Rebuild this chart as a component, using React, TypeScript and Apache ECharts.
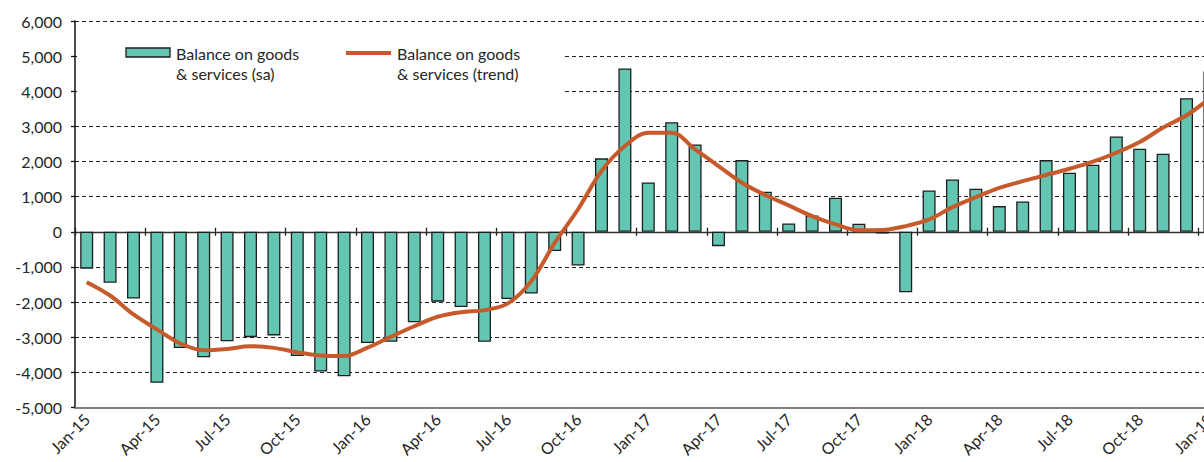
import React, { useEffect, useRef } from "react";
import * as echarts from "echarts";

const categories = [
  "Jan-15", "Feb-15", "Mar-15", "Apr-15", "May-15", "Jun-15", "Jul-15", "Aug-15", "Sep-15", "Oct-15", "Nov-15", "Dec-15",
  "Jan-16", "Feb-16", "Mar-16", "Apr-16", "May-16", "Jun-16", "Jul-16", "Aug-16", "Sep-16", "Oct-16", "Nov-16", "Dec-16",
  "Jan-17", "Feb-17", "Mar-17", "Apr-17", "May-17", "Jun-17", "Jul-17", "Aug-17", "Sep-17", "Oct-17", "Nov-17", "Dec-17",
  "Jan-18", "Feb-18", "Mar-18", "Apr-18", "May-18", "Jun-18", "Jul-18", "Aug-18", "Sep-18", "Oct-18", "Nov-18", "Dec-18",
  "Jan-19",
];

const balanceSa = [
  -1050, -1450, -1900, -4300, -3310, -3575, -3120, -3000, -2950, -3535, -3980, -4115,
  -3165, -3130, -2575, -1990, -2140, -3130, -1915, -1760, -550, -960, 2090, 4650,
  1405, 3120, 2485, -410, 2040, 1140, 235, 465, 970, 230, -50, -1720,
  1175, 1490, 1225, 730, 865, 2040, 1680, 1910, 2715, 2365, 2220, 3800,
  4565,
];

const balanceTrend = [
  -1435, -1815, -2355, -2780, -3180, -3370, -3335, -3260, -3305, -3430, -3520, -3540,
  -3300, -2990, -2690, -2420, -2290, -2230, -2040, -1405, -315, 640, 1730, 2440,
  2820, 2820, 2345, 1870, 1395, 1045, 750, 445, 210, 45, 50, 160,
  350, 700, 985, 1250, 1440, 1615, 1795, 1995, 2250, 2555, 2965, 3315,
  3800,
];

const seriesNames = ["Balance on goods\n& services (sa)", "Balance on goods\n& services (trend)"];

const TEAL = "#62C6B2";
const ORANGE = "#C65A2A";
const FONT = "Lato";
const TEXT = "#262626";

export default function App() {
  const ref = useRef<HTMLDivElement>(null);

  useEffect(() => {
    if (!ref.current) return;
    const chart = echarts.init(ref.current, null, { renderer: "svg" });
    const baseX = {
      type: "category" as const,
      data: categories,
      position: "bottom" as const,
      boundaryGap: true,
    };
    chart.setOption({
      animation: false,
      backgroundColor: "#fff",
      textStyle: { fontFamily: FONT },
      grid: { left: 75, top: 21, width: 1146.6, height: 386.4, containLabel: false },
      xAxis: [
        {
          ...baseX,
          axisLine: { show: true, onZero: false, lineStyle: { color: "#808080", width: 2 } },
          axisTick: { show: false },
          axisLabel: {
            interval: 2,
            rotate: 45,
            margin: 9,
            fontSize: 16,
            color: TEXT,
            fontFamily: FONT,
          },
          splitLine: { show: false },
        },
        {
          ...baseX,
          axisLine: { show: true, onZero: true, onZeroAxisIndex: 0, lineStyle: { color: "#333", width: 1.3 } },
          axisTick: { show: true, interval: 2, length: 4, lineStyle: { color: "#222", width: 1.3 } },
          axisLabel: { show: false },
          splitLine: { show: false },
        },
        {
          ...baseX,
          axisLine: { show: false, onZero: true, onZeroAxisIndex: 0 },
          axisTick: { show: true, inside: true, interval: 2, length: 4, lineStyle: { color: "#222", width: 1.3 } },
          axisLabel: { show: false },
          splitLine: { show: false },
        },
      ],
      yAxis: {
        type: "value",
        min: -5000,
        max: 6000,
        interval: 1000,
        axisLine: { show: true, lineStyle: { color: "#111", width: 1.5 } },
        axisTick: { show: true, length: 4, lineStyle: { color: "#111", width: 1.3 } },
        axisLabel: {
          margin: 13,
          fontSize: 16,
          color: TEXT,
          fontFamily: FONT,
          formatter: (v: number) => v.toLocaleString("en-US"),
        },
        splitLine: {
          show: true,
          lineStyle: { color: "#222", width: 1.2, type: [4, 3] },
        },
      },
      series: [
        {
          name: seriesNames[0],
          type: "bar",
          data: balanceSa,
          xAxisIndex: 0,
          barWidth: 13,
          itemStyle: { color: TEAL, borderColor: "#1e1e1e", borderWidth: 1.3 },
          z: 2,
        },
        {
          name: seriesNames[1],
          type: "line",
          data: balanceTrend,
          xAxisIndex: 0,
          smooth: 0.35,
          showSymbol: false,
          symbol: "none",
          lineStyle: { color: ORANGE, width: 4 },
          itemStyle: { color: ORANGE },
          z: 3,
        },
      ],
      graphic: [
        {
          type: "rect",
          z: 50,
          shape: { x: 77, y: 34, width: 486, height: 80 },
          style: { fill: "#fff" },
        },
        {
          type: "rect",
          z: 51,
          shape: { x: 126, y: 48, width: 44, height: 9 },
          style: { fill: TEAL, stroke: "#1e1e1e", lineWidth: 1.3 },
        },
        {
          type: "text",
          z: 51,
          x: 176,
          y: 43,
          style: {
            text: seriesNames[0],
            fontSize: 16,
            fontFamily: FONT,
            lineHeight: 20,
            fill: TEXT,
            verticalAlign: "top",
          },
        },
        {
          type: "line",
          z: 51,
          shape: { x1: 346, y1: 53, x2: 391, y2: 53 },
          style: { stroke: ORANGE, lineWidth: 4 },
        },
        {
          type: "text",
          z: 51,
          x: 397,
          y: 43,
          style: {
            text: seriesNames[1],
            fontSize: 16,
            fontFamily: FONT,
            lineHeight: 20,
            fill: TEXT,
            verticalAlign: "top",
          },
        },
      ],
    });
    return () => chart.dispose();
  }, []);

  return (
    <div style={{ position: "absolute", left: 0, top: 0, width: 1204, height: 462, overflow: "hidden", background: "#fff" }}>
      <div ref={ref} style={{ width: 1240, height: 462 }} />
    </div>
  );
}
